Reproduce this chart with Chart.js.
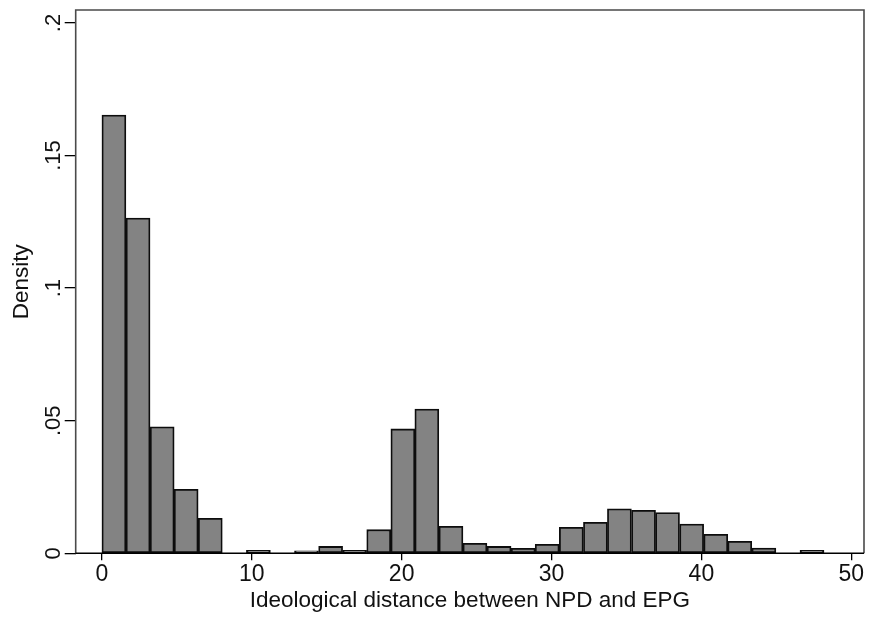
<!DOCTYPE html>
<html>
<head>
<meta charset="utf-8">
<script src="https://cdn.jsdelivr.net/npm/chart.js@4/dist/chart.umd.min.js"></script>
<style>
  html, body { margin: 0; padding: 0; background: #ffffff; }
  #wrap { width: 869px; height: 619px; }
</style>
</head>
<body>
<div id="wrap"><canvas id="c" width="869" height="619"></canvas></div>
<script>
// ---- data ----
const binCenters = [0.80, 2.41, 4.02, 5.62, 7.23, 8.83, 10.44, 12.05, 13.65, 15.26,
                    16.86, 18.47, 20.08, 21.68, 23.29, 24.89, 26.50, 28.11, 29.71, 31.32,
                    32.93, 34.53, 36.14, 37.74, 39.35, 40.96, 42.56, 44.17, 45.77, 47.38];
const densities = [0.1653, 0.1264, 0.0477, 0.0241, 0.0132, 0, 0.0011, 0, 0.0009, 0.0026,
                   0.0011, 0.0089, 0.0469, 0.0544, 0.0102, 0.0038, 0.0026, 0.0019, 0.0034, 0.0098,
                   0.0117, 0.0168, 0.0162, 0.0154, 0.0110, 0.0072, 0.0045, 0.0020, 0, 0.0011];
const xTickValues = [0, 10, 20, 30, 40, 50];
const xTickLabels = ['0', '10', '20', '30', '40', '50'];
const yTickValues = [0, 0.05, 0.1, 0.15, 0.2];
const yTickLabels = ['0', '.05', '.1', '.15', '.2'];
const xTitle = 'Ideological distance between NPD and EPG';
const yTitle = 'Density';

const points = binCenters.map((x, i) => ({x: x, y: densities[i]}));

const FONT = "'Liberation Sans', Arial, Helvetica, sans-serif";

const framePlugin = {
  id: 'frame',
  afterDraw(chart) {
    const {ctx, chartArea: a} = chart;
    ctx.save();
    ctx.strokeStyle = '#4a4a4a';
    ctx.lineWidth = 1.6;
    ctx.beginPath();
    ctx.moveTo(a.left, a.bottom);
    ctx.lineTo(a.left, a.top);
    ctx.lineTo(a.right, a.top);
    ctx.lineTo(a.right, a.bottom);
    ctx.stroke();
    ctx.strokeStyle = '#000';
    ctx.lineWidth = 1.5;
    ctx.beginPath();
    ctx.moveTo(a.left, a.bottom);
    ctx.lineTo(a.right, a.bottom);
    ctx.stroke();
    ctx.restore();
  }
};

new Chart(document.getElementById('c'), {
  type: 'bar',
  data: {
    datasets: [{
      data: points,
      backgroundColor: '#838383',
      borderColor: '#0d0d0d',
      borderWidth: 1.8,
      borderSkipped: false,
      barPercentage: 1.0,
      categoryPercentage: 1.0
    }]
  },
  options: {
    responsive: false,
    animation: false,
    devicePixelRatio: 1,
    layout: { padding: { left: 0, right: 5, top: 10, bottom: 0 } },
    plugins: { legend: { display: false }, tooltip: { enabled: false } },
    scales: {
      x: {
        type: 'linear',
        offset: false,
        min: -1.75,
        max: 50.85,
        afterBuildTicks(scale) { scale.ticks = xTickValues.map(v => ({value: v})); },
        afterFit(scale) { scale.height = 65.7; },
        border: { display: false },
        grid: { offset: false, drawOnChartArea: false, drawTicks: true, tickLength: 7, color: '#000', lineWidth: 1.3 },
        ticks: {
          color: '#111',
          font: { family: FONT, size: 23 },
          padding: 1,
          maxRotation: 0,
          autoSkip: false,
          callback(v) { const i = xTickValues.indexOf(v); return i >= 0 ? xTickLabels[i] : ''; }
        },
        title: {
          display: true, text: xTitle, color: '#111',
          font: { family: FONT, size: 22.5 },
          padding: { top: 0, bottom: 5 }
        }
      },
      y: {
        type: 'linear',
        min: 0,
        max: 0.2049,
        afterBuildTicks(scale) { scale.ticks = yTickValues.map(v => ({value: v})); },
        afterFit(scale) { scale.width = 75.7; },
        border: { display: false },
        grid: { offset: false, drawOnChartArea: false, drawTicks: true, tickLength: 11, color: '#000', lineWidth: 1.3 },
        ticks: {
          color: '#111',
          font: { family: FONT, size: 22 },
          minRotation: 90,
          maxRotation: 90,
          crossAlign: 'center',
          padding: -4.5,
          autoSkip: false,
          callback(v) { const i = yTickValues.indexOf(v); return i >= 0 ? yTickLabels[i] : ''; }
        },
        title: {
          display: true, text: yTitle, color: '#111',
          font: { family: FONT, size: 22.5 },
          padding: { top: 8.5, bottom: 0 }
        }
      }
    }
  },
  plugins: [framePlugin]
});
</script>
</body>
</html>
